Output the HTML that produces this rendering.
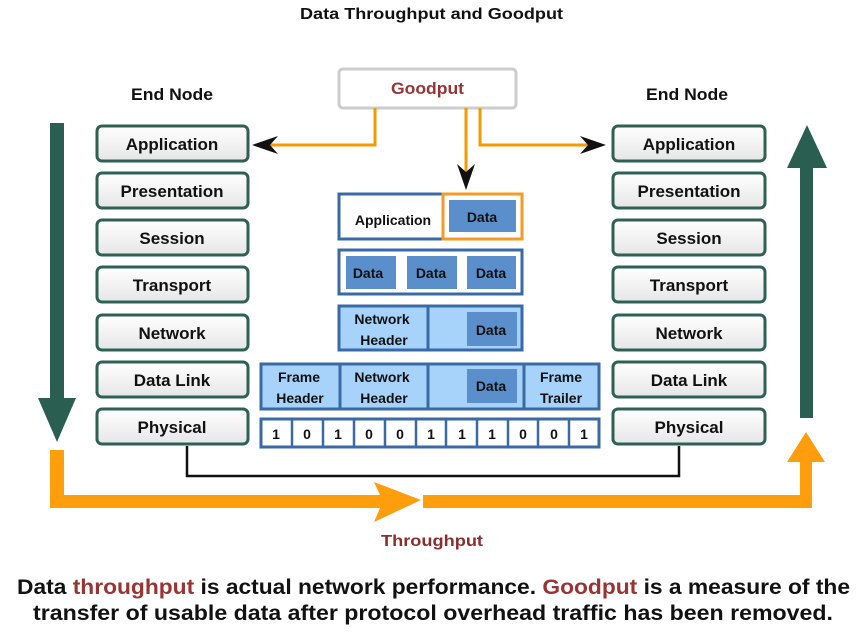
<!DOCTYPE html>
<html><head><style>
body{margin:0;background:#fff;width:857px;height:627px;overflow:hidden;font-family:"Liberation Sans",Arial,sans-serif}
</style></head><body>
<svg width="857" height="627" viewBox="0 0 857 627" xmlns="http://www.w3.org/2000/svg" font-family="Liberation Sans, Arial, sans-serif" font-weight="bold">
<defs>
<linearGradient id="g" x1="0" y1="0" x2="0" y2="1"><stop offset="0" stop-color="#ffffff"/><stop offset="1" stop-color="#e6e6e6"/></linearGradient>
</defs>
<text x="300" y="19" font-size="16" fill="#111" textLength="263" lengthAdjust="spacingAndGlyphs">Data Throughput and Goodput</text>
<text x="131" y="100" font-size="17" fill="#111" textLength="82" lengthAdjust="spacingAndGlyphs">End Node</text>
<text x="646" y="100" font-size="17" fill="#111" textLength="82" lengthAdjust="spacingAndGlyphs">End Node</text>

<g font-size="17" fill="#111" text-anchor="middle">
<g stroke="#2e6152" stroke-width="3" fill="url(#g)">
<rect x="97" y="126" width="151" height="35" rx="5"/><rect x="97" y="173" width="151" height="35" rx="5"/><rect x="97" y="220" width="151" height="35" rx="5"/><rect x="97" y="267" width="151" height="35" rx="5"/><rect x="97" y="315" width="151" height="35" rx="5"/><rect x="97" y="362" width="151" height="35" rx="5"/><rect x="97" y="409" width="151" height="35" rx="5"/>
<rect x="613" y="126" width="152" height="35" rx="5"/><rect x="613" y="173" width="152" height="35" rx="5"/><rect x="613" y="220" width="152" height="35" rx="5"/><rect x="613" y="267" width="152" height="35" rx="5"/><rect x="613" y="315" width="152" height="35" rx="5"/><rect x="613" y="362" width="152" height="35" rx="5"/><rect x="613" y="409" width="152" height="35" rx="5"/>
</g>
<text x="172" y="150">Application</text><text x="172" y="197">Presentation</text><text x="172" y="244">Session</text><text x="172" y="291">Transport</text><text x="172" y="339">Network</text><text x="172" y="386">Data Link</text><text x="172" y="433">Physical</text>
<text x="689" y="150">Application</text><text x="689" y="197">Presentation</text><text x="689" y="244">Session</text><text x="689" y="291">Transport</text><text x="689" y="339">Network</text><text x="689" y="386">Data Link</text><text x="689" y="433">Physical</text>
</g>

<rect x="50" y="123" width="14" height="280" fill="#2a5e51"/>
<polygon points="38,398 76,398 57,442" fill="#2a5e51"/>
<rect x="800" y="165" width="13" height="253" fill="#2a5e51"/>
<polygon points="787,168 827,168 807,125" fill="#2a5e51"/>

<polygon points="50,450 64,450 64,495 380,495 374,482 421,500 374,522 380,508 50,508" fill="#ff9e0d"/>
<polygon points="423,495 800,495 800,462 787,462 806,432 825,462 812,462 812,508 423,508" fill="#ff9e0d"/>
<text x="381" y="546" font-size="16" fill="#8b2e2e" textLength="102" lengthAdjust="spacingAndGlyphs">Throughput</text>

<polyline points="187,446 187,476 679,476 679,446" fill="none" stroke="#111" stroke-width="2.5"/>

<rect x="339" y="69" width="177" height="39" rx="4" fill="#fff" stroke="#ccc" stroke-width="3"/>
<text x="391" y="94" font-size="17" fill="#9a3333" textLength="73" lengthAdjust="spacingAndGlyphs">Goodput</text>
<g stroke="#f59a00" stroke-width="3" fill="none">
<polyline points="375,108 375,145 270,145"/>
<polyline points="466,108 466,172"/>
<polyline points="480,108 480,145 590,145"/>
</g>
<polygon points="252,145 278,136 270,145 278,154" fill="#111"/>
<polygon points="606,145 580,136 588,145 580,154" fill="#111"/>
<polygon points="466,190 457,164 466,172 475,164" fill="#111"/>

<g stroke="#3a6aa5" stroke-width="3">
<rect x="339" y="194" width="183" height="45" fill="#fff"/>
<rect x="339" y="250" width="183" height="44" fill="#fff"/>
<rect x="339" y="306" width="183" height="44" fill="#a7d3fb"/>
<line x1="428" y1="306" x2="428" y2="350"/>
<rect x="261" y="364" width="338" height="45" fill="#a7d3fb"/>
<line x1="340" y1="364" x2="340" y2="409"/><line x1="428" y1="364" x2="428" y2="409"/><line x1="524" y1="364" x2="524" y2="409"/>
<rect x="261" y="419" width="338" height="28" fill="#fff"/>
</g>
<rect x="443" y="194" width="79" height="45" fill="#fff" stroke="#f59a26" stroke-width="3"/>
<g fill="#5b8fcb">
<rect x="449" y="200" width="67" height="32"/>
<rect x="346" y="256" width="50" height="33"/><rect x="407" y="256" width="50" height="33"/><rect x="467" y="256" width="49" height="33"/>
<rect x="467" y="312" width="50" height="34"/>
<rect x="467" y="369" width="50" height="34"/>
</g>
<g stroke="#3a6aa5" stroke-width="2.5">
<line x1="292" y1="419" x2="292" y2="447"/><line x1="323" y1="419" x2="323" y2="447"/><line x1="354" y1="419" x2="354" y2="447"/><line x1="385" y1="419" x2="385" y2="447"/><line x1="416" y1="419" x2="416" y2="447"/><line x1="446" y1="419" x2="446" y2="447"/><line x1="477" y1="419" x2="477" y2="447"/><line x1="508" y1="419" x2="508" y2="447"/><line x1="538" y1="419" x2="538" y2="447"/><line x1="569" y1="419" x2="569" y2="447"/>
</g>
<g font-size="14" fill="#111" text-anchor="middle">
<text x="393" y="225">Application</text>
<text x="482" y="222">Data</text>
<text x="368" y="278">Data</text><text x="431" y="278">Data</text><text x="491" y="278">Data</text>
<text x="382" y="324">Network</text><text x="384" y="345">Header</text>
<text x="491" y="335">Data</text>
<text x="299" y="382">Frame</text><text x="300" y="403">Header</text>
<text x="382" y="382">Network</text><text x="384" y="403">Header</text>
<text x="491" y="391">Data</text>
<text x="561" y="382">Frame</text><text x="561" y="403">Trailer</text>
<text x="276" y="439">1</text><text x="307" y="439">0</text><text x="338" y="439">1</text><text x="369" y="439">0</text><text x="400" y="439">0</text><text x="431" y="439">1</text><text x="462" y="439">1</text><text x="492" y="439">1</text><text x="523" y="439">0</text><text x="554" y="439">0</text><text x="584" y="439">1</text>
</g>

<text x="17" y="594" font-size="21" fill="#111" textLength="833" lengthAdjust="spacingAndGlyphs">Data <tspan fill="#9a3333">throughput</tspan> is actual network performance. <tspan fill="#9a3333">Goodput</tspan> is a measure of the</text>
<text x="33" y="620" font-size="21" fill="#111" textLength="800" lengthAdjust="spacingAndGlyphs">transfer of usable data after protocol overhead traffic has been removed.</text>
</svg>
</body></html>
